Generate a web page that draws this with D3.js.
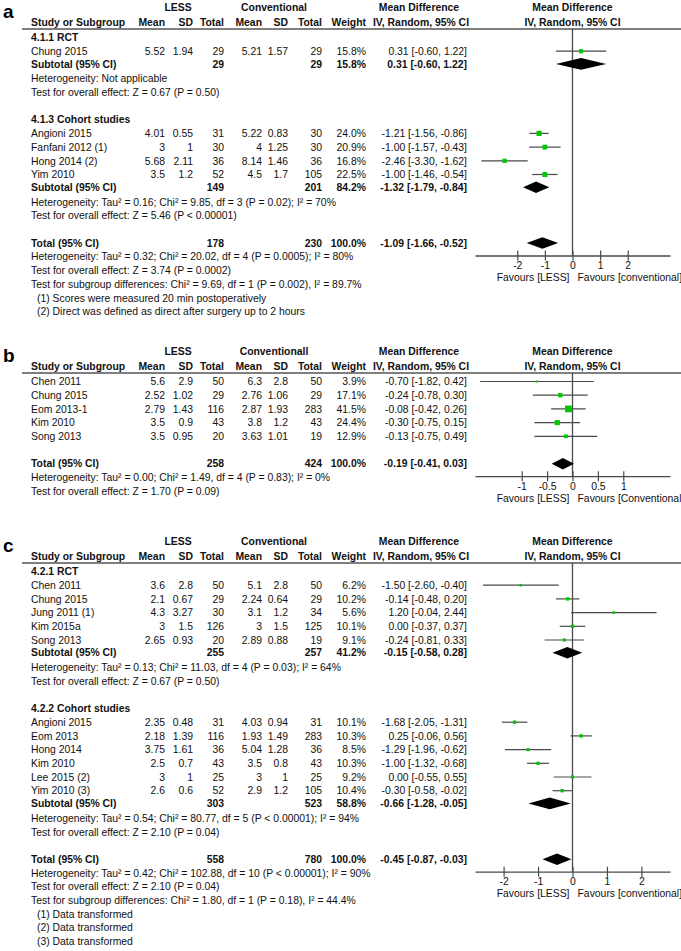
<!DOCTYPE html>
<html><head><meta charset="utf-8">
<script src="https://cdn.jsdelivr.net/npm/d3@7"></script>
<style>
body{margin:0;background:#fff;}
svg{display:block;font-family:"Liberation Sans",Arial,sans-serif;}
</style></head><body>
<svg id="chart" width="681" height="951"></svg>
<script>
// ---------------- DATA ----------------
// study rows: [name, lessMean, lessSD, lessN, convMean, convSD, convN, weight%, MD, lower, upper]
// summary rows: [lessN, convN, weight%, MD, lower, upper]

// Panel a
const aRCT = [["Chung 2015", 5.52, 1.94, 29, 5.21, 1.57, 29, 15.8, 0.31, -0.60, 1.22]];
const aRCTSubtotal = [29, 29, 15.8, 0.31, -0.60, 1.22];
const aRCTNotes = ["Heterogeneity: Not applicable", "Test for overall effect: Z = 0.67 (P = 0.50)"];
const aCohort = [
  ["Angioni 2015", 4.01, 0.55, 31, 5.22, 0.83, 30, 24.0, -1.21, -1.56, -0.86],
  ["Fanfani 2012 (1)", 3, 1, 30, 4, 1.25, 30, 20.9, -1.00, -1.57, -0.43],
  ["Hong 2014 (2)", 5.68, 2.11, 36, 8.14, 1.46, 36, 16.8, -2.46, -3.30, -1.62],
  ["Yim 2010", 3.5, 1.2, 52, 4.5, 1.7, 105, 22.5, -1.00, -1.46, -0.54]
];
const aCohortSubtotal = [149, 201, 84.2, -1.32, -1.79, -0.84];
const aCohortNotes = ["Heterogeneity: Tau² = 0.16; Chi² = 9.85, df = 3 (P = 0.02); I² = 70%", "Test for overall effect: Z = 5.46 (P < 0.00001)"];
const aTotal = [178, 230, 100.0, -1.09, -1.66, -0.52];
const aTotalNotes = ["Heterogeneity: Tau² = 0.32; Chi² = 20.02, df = 4 (P = 0.0005); I² = 80%", "Test for overall effect: Z = 3.74 (P = 0.0002)", "Test for subgroup differences: Chi² = 9.69, df = 1 (P = 0.002), I² = 89.7%"];
const aFootnotes = ["(1) Scores were measured 20 min postoperatively", "(2) Direct was defined as direct after surgery up to 2 hours"];
const aGroupLabels = ["4.1.1 RCT", "4.1.3 Cohort studies"];
const aTicks = [-2, -1, 0, 1, 2];
const aLabels = ["LESS", "Conventional", "Favours [LESS]", "Favours [conventional]"];

// Panel b
const bStudies = [
  ["Chen 2011", 5.6, 2.9, 50, 6.3, 2.8, 50, 3.9, -0.70, -1.82, 0.42],
  ["Chung 2015", 2.52, 1.02, 29, 2.76, 1.06, 29, 17.1, -0.24, -0.78, 0.30],
  ["Eom 2013-1", 2.79, 1.43, 116, 2.87, 1.93, 283, 41.5, -0.08, -0.42, 0.26],
  ["Kim 2010", 3.5, 0.9, 43, 3.8, 1.2, 43, 24.4, -0.30, -0.75, 0.15],
  ["Song 2013", 3.5, 0.95, 20, 3.63, 1.01, 19, 12.9, -0.13, -0.75, 0.49]
];
const bTotal = [258, 424, 100.0, -0.19, -0.41, 0.03];
const bTotalNotes = ["Heterogeneity: Tau² = 0.00; Chi² = 1.49, df = 4 (P = 0.83); I² = 0%", "Test for overall effect: Z = 1.70 (P = 0.09)"];
const bTicks = [-1, -0.5, 0, 0.5, 1];
const bLabels = ["LESS", "Conventionall", "Favours [LESS]", "Favours [Conventional]"];

// Panel c
const cRCT = [
  ["Chen 2011", 3.6, 2.8, 50, 5.1, 2.8, 50, 6.2, -1.50, -2.60, -0.40],
  ["Chung 2015", 2.1, 0.67, 29, 2.24, 0.64, 29, 10.2, -0.14, -0.48, 0.20],
  ["Jung 2011 (1)", 4.3, 3.27, 30, 3.1, 1.2, 34, 5.6, 1.20, -0.04, 2.44],
  ["Kim 2015a", 3, 1.5, 126, 3, 1.5, 125, 10.1, 0.00, -0.37, 0.37],
  ["Song 2013", 2.65, 0.93, 20, 2.89, 0.88, 19, 9.1, -0.24, -0.81, 0.33]
];
const cRCTSubtotal = [255, 257, 41.2, -0.15, -0.58, 0.28];
const cRCTNotes = ["Heterogeneity: Tau² = 0.13; Chi² = 11.03, df = 4 (P = 0.03); I² = 64%", "Test for overall effect: Z = 0.67 (P = 0.50)"];
const cCohort = [
  ["Angioni 2015", 2.35, 0.48, 31, 4.03, 0.94, 31, 10.1, -1.68, -2.05, -1.31],
  ["Eom 2013", 2.18, 1.39, 116, 1.93, 1.49, 283, 10.3, 0.25, -0.06, 0.56],
  ["Hong 2014", 3.75, 1.61, 36, 5.04, 1.28, 36, 8.5, -1.29, -1.96, -0.62],
  ["Kim 2010", 2.5, 0.7, 43, 3.5, 0.8, 43, 10.3, -1.00, -1.32, -0.68],
  ["Lee 2015 (2)", 3, 1, 25, 3, 1, 25, 9.2, 0.00, -0.55, 0.55],
  ["Yim 2010 (3)", 2.6, 0.6, 52, 2.9, 1.2, 105, 10.4, -0.30, -0.58, -0.02]
];
const cCohortSubtotal = [303, 523, 58.8, -0.66, -1.28, -0.05];
const cCohortNotes = ["Heterogeneity: Tau² = 0.54; Chi² = 80.77, df = 5 (P < 0.00001); I² = 94%", "Test for overall effect: Z = 2.10 (P = 0.04)"];
const cTotal = [558, 780, 100.0, -0.45, -0.87, -0.03];
const cTotalNotes = ["Heterogeneity: Tau² = 0.42; Chi² = 102.88, df = 10 (P < 0.00001); I² = 90%", "Test for overall effect: Z = 2.10 (P = 0.04)", "Test for subgroup differences: Chi² = 1.80, df = 1 (P = 0.18), I² = 44.4%"];
const cFootnotes = ["(1) Data transformed", "(2) Data transformed", "(3) Data transformed"];
const cGroupLabels = ["4.2.1 RCT", "4.2.2 Cohort studies"];
const cTicks = [-2, -1, 0, 1, 2];
const cLabels = ["LESS", "Conventional", "Favours [LESS]", "Favours [conventional]"];

const columnHeaders = ["Study or Subgroup", "Mean", "SD", "Total", "Mean", "SD", "Total", "Weight"];

// ---------------- LAYOUT / STYLE ----------------
const svg = d3.select("#chart");
const FS = 10.4, ROW = 13.7, BASE = 3.7;
const TXT = "#111", LINE = "#4a4a4a", GREEN = "#00c800";
const colX = { name: 31, m1: 165, s1: 193, n1: 224, m2: 262, s2: 288, n2: 322, w: 366, ci: 467 };

function txt(g, x, yc, s, anchor, bold, size) {
  return g.append("text").attr("x", x).attr("y", yc + BASE)
    .attr("text-anchor", anchor || "start")
    .attr("font-size", size || FS)
    .attr("font-weight", bold ? "bold" : "normal")
    .attr("fill", TXT).text(s);
}
const fmtCI = (md, lo, hi) => `${md.toFixed(2)} [${lo.toFixed(2)}, ${hi.toFixed(2)}]`;

function drawPanel(p) {
  const g = svg.append("g");
  const lineY = p.lineY;
  const x = d3.scaleLinear().domain(p.domain).range([475, 670]);
  const x0 = x(0);

  // panel letter
  g.append("text").attr("x", 3).attr("y", lineY - 11).attr("font-size", 19)
    .attr("font-weight", "bold").attr("fill", "#000").text(p.letter);

  // headers
  const h1 = lineY - 21.5, h2 = lineY - 6.5;
  txt(g, 178, h1, p.labels[0], "middle", true);
  txt(g, 274, h1, p.labels[1], "middle", true);
  txt(g, 419, h1, "Mean Difference", "middle", true);
  txt(g, x0, h1, "Mean Difference", "middle", true);
  txt(g, colX.name, h2, columnHeaders[0], "start", true);
  [colX.m1, colX.s1, colX.n1, colX.m2, colX.s2, colX.n2, colX.w].forEach((cx, i) =>
    txt(g, cx, h2, columnHeaders[i + 1], "end", true));
  txt(g, 421, h2, "IV, Random, 95% CI", "middle", true);
  txt(g, x0, h2, "IV, Random, 95% CI", "middle", true);
  g.append("line").attr("x1", 22).attr("x2", 681).attr("y1", lineY).attr("y2", lineY)
    .attr("stroke", "#555").attr("stroke-width", 1.5);

  // rows
  let slot = 0;
  const y0 = lineY + 8.5;
  const yOf = s => y0 + s * ROW;
  const marks = [];

  function studyRow(r) {
    const y = yOf(slot++);
    txt(g, colX.name, y, r[0]);
    txt(g, colX.m1, y, String(r[1]), "end");
    txt(g, colX.s1, y, String(r[2]), "end");
    txt(g, colX.n1, y, String(r[3]), "end");
    txt(g, colX.m2, y, String(r[4]), "end");
    txt(g, colX.s2, y, String(r[5]), "end");
    txt(g, colX.n2, y, String(r[6]), "end");
    txt(g, colX.w, y, r[7].toFixed(1) + "%", "end");
    txt(g, colX.ci, y, fmtCI(r[8], r[9], r[10]), "end");
    marks.push({ type: "study", y, w: r[7], md: r[8], lo: r[9], hi: r[10] });
  }
  function summaryRow(label, s, off) {
    const y = yOf(slot++) + (off || 0);
    txt(g, colX.name, y, label, "start", true);
    txt(g, colX.n1, y, String(s[0]), "end", true);
    txt(g, colX.n2, y, String(s[1]), "end", true);
    txt(g, colX.w, y, s[2].toFixed(1) + "%", "end", true);
    txt(g, colX.ci, y, fmtCI(s[3], s[4], s[5]), "end", true);
    marks.push({ type: "diamond", y, md: s[3], lo: s[4], hi: s[5] });
    return y;
  }
  function noteRows(notes, indent) {
    notes.forEach(n => { txt(g, indent || colX.name, yOf(slot++), n); });
  }

  if (p.groups) {
    p.groups.forEach(gr => {
      txt(g, colX.name, yOf(slot++), gr.label, "start", true);
      gr.studies.forEach(studyRow);
      summaryRow("Subtotal (95% CI)", gr.subtotal, -1);
      noteRows(gr.notes);
      slot++;
    });
  } else {
    p.studies.forEach(studyRow);
    slot++;
  }
  const totalY = summaryRow("Total (95% CI)", p.total);
  noteRows(p.totalNotes);
  if (p.footnotes) noteRows(p.footnotes, 37);

  // forest plot
  const axisY = totalY + 12.5;
  g.append("line").attr("x1", x0).attr("x2", x0).attr("y1", lineY).attr("y2", axisY)
    .attr("stroke", LINE).attr("stroke-width", 1.3);

  marks.forEach(m => {
    if (m.type === "study") {
      g.append("line").attr("x1", x(m.lo)).attr("x2", x(m.hi)).attr("y1", m.y).attr("y2", m.y)
        .attr("stroke", LINE).attr("stroke-width", 1.2);
      const s = Math.max(2, Math.sqrt(m.w) * 1.05);
      g.append("rect").attr("x", x(m.md) - s / 2).attr("y", m.y - s / 2)
        .attr("width", s).attr("height", s).attr("fill", GREEN);
    } else {
      const h = 5.8;
      g.append("path").attr("d",
        `M${x(m.lo)},${m.y}L${x(m.md)},${m.y - h}L${x(m.hi)},${m.y}L${x(m.md)},${m.y + h}Z`)
        .attr("fill", "#000");
    }
  });

  const ax = g.append("g").attr("transform", `translate(0,${axisY})`)
    .call(d3.axisBottom(x).tickValues(p.ticks).tickSize(5).tickSizeOuter(0).tickFormat(d => String(d)));
  ax.attr("font-family", null).attr("font-size", null);
  ax.select(".domain").attr("stroke", LINE).attr("stroke-width", 1.3);
  ax.selectAll(".tick line").attr("y1", -5).attr("y2", 5).attr("stroke", LINE).attr("stroke-width", 1.2);
  ax.selectAll(".tick text").attr("y", 6.3).attr("font-size", FS).attr("fill", TXT);

  txt(g, x0 - 3, axisY + 22, p.labels[2], "end");
  txt(g, x0 + 5, axisY + 22, p.labels[3], "start");
}

drawPanel({
  letter: "a", lineY: 29, domain: [-3.53, 3.53], ticks: aTicks, labels: aLabels,
  groups: [
    { label: aGroupLabels[0], studies: aRCT, subtotal: aRCTSubtotal, notes: aRCTNotes },
    { label: aGroupLabels[1], studies: aCohort, subtotal: aCohortSubtotal, notes: aCohortNotes }
  ],
  total: aTotal, totalNotes: aTotalNotes, footnotes: aFootnotes
});
drawPanel({
  letter: "b", lineY: 373, domain: [-1.92, 1.92], ticks: bTicks, labels: bLabels,
  studies: bStudies, total: bTotal, totalNotes: bTotalNotes
});
drawPanel({
  letter: "c", lineY: 563, domain: [-2.83, 2.83], ticks: cTicks, labels: cLabels,
  groups: [
    { label: cGroupLabels[0], studies: cRCT, subtotal: cRCTSubtotal, notes: cRCTNotes },
    { label: cGroupLabels[1], studies: cCohort, subtotal: cCohortSubtotal, notes: cCohortNotes }
  ],
  total: cTotal, totalNotes: cTotalNotes, footnotes: cFootnotes
});
</script>
</body></html>
